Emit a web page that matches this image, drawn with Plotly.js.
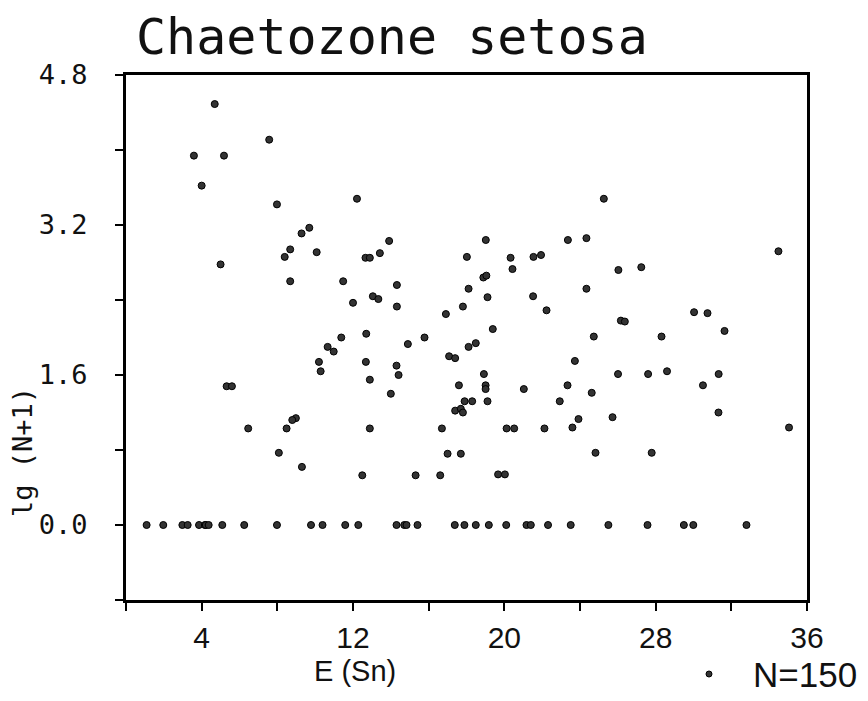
<!DOCTYPE html>
<html>
<head>
<meta charset="utf-8">
<script src="https://cdn.plot.ly/plotly-3.0.1.min.js"></script>
<style>html,body{margin:0;padding:0;background:#fff;}#chart{width:868px;height:701px;}</style>
</head>
<body>
<div id="chart"></div>
<script>
// Stations with N > 0: E (Sn) and lg(N+1)
const eSn = [4.69,7.57,3.59,5.18,4.00,7.98,12.21,9.28,9.69,13.91,8.68,8.39,10.08,12.66,12.89,13.42,5.00,8.68,11.48,14.32,
  13.05,13.34,12.00,14.32,25.26,19.02,23.36,24.34,18.02,20.33,21.54,21.94,20.43,26.03,27.24,18.89,19.05,18.11,19.11,21.52,
  24.34,17.81,22.23,16.91,26.16,26.37,19.39,34.49,30.03,30.74,31.64,28.31,27.60,28.60,31.33,30.50,31.32,35.05,27.79,12.70,
  11.38,14.90,10.66,10.98,10.20,12.68,14.30,10.29,14.41,12.89,14.00,5.32,5.60,8.98,8.79,6.46,8.49,12.89,8.08,9.30,
  12.49,15.31,15.78,18.11,18.49,17.08,17.40,18.92,17.60,19.01,19.01,21.03,17.90,18.30,19.11,17.40,17.70,17.81,16.70,20.12,
  20.52,17.00,17.70,16.61,19.67,20.03,24.73,23.73,26.01,23.34,24.62,22.93,23.92,25.72,23.60,24.82,22.12];
const lgN = [4.49,4.11,3.94,3.94,3.62,3.42,3.48,3.11,3.17,3.03,2.94,2.86,2.91,2.85,2.85,2.90,2.78,2.60,2.60,2.56,
  2.44,2.41,2.37,2.33,3.48,3.04,3.04,3.06,2.86,2.85,2.86,2.88,2.73,2.72,2.75,2.64,2.66,2.52,2.43,2.44,
  2.52,2.33,2.29,2.25,2.18,2.17,2.09,2.92,2.27,2.26,2.07,2.01,1.61,1.64,1.61,1.49,1.20,1.04,0.77,2.04,
  2.00,1.93,1.90,1.85,1.74,1.74,1.70,1.64,1.60,1.55,1.40,1.48,1.48,1.14,1.12,1.03,1.03,1.03,0.77,0.62,
  0.53,0.53,2.00,1.90,1.94,1.80,1.78,1.61,1.49,1.49,1.45,1.45,1.32,1.32,1.32,1.22,1.24,1.20,1.03,1.03,
  1.03,0.76,0.76,0.53,0.54,0.54,2.01,1.75,1.61,1.49,1.41,1.32,1.13,1.15,1.04,0.77,1.03];
// Stations with N = 0
const eSnZero = [1.09,1.97,2.98,3.26,3.86,4.17,4.22,4.37,5.09,6.25,7.98,9.78,10.39,11.59,12.28,14.30,14.71,14.83,15.41,17.38,
  17.89,18.49,19.18,20.10,21.17,21.40,22.31,23.51,25.50,27.57,29.49,29.99,32.80];
const lgNZero = eSnZero.map(() => 0);

const xTickVals = [0,4,8,12,16,20,24,28,32,36];
const xTickText = ['','4','','12','','20','','28','','36'];
const yTickVals = [-0.8,0,0.8,1.6,2.4,3.2,4.0,4.8];
const yTickText = ['','0.0','','1.6','','3.2','','4.8'];

const titleText = 'Chaetozone setosa';
const xLabel = 'E (Sn)';
const yLabel = 'lg (N+1)';
const legendName = 'N=150';

const marker = {symbol:'circle', size:7, color:'#333', line:{color:'#000', width:1}};

const traces = [
  {x: eSn.concat(eSnZero), y: lgN.concat(lgNZero), type:'scatter', mode:'markers',
   marker: marker, name: legendName, showlegend: false, hoverinfo:'x+y'}
];

const mono = 'DejaVu Sans Mono, monospace';
const sans = 'Liberation Sans, Arial, sans-serif';

// pixel helpers for paper coordinates (plot area 126..807 x 75..600)
const PL = 126, PW = 681, PT = 75, PH = 525;
const px = v => (v - PL) / PW;
const py = v => (PT + PH - v) / PH;

const layout = {
  width: 868, height: 701,
  paper_bgcolor: '#fff', plot_bgcolor: '#fff',
  margin: {l:126, r:61, t:75, b:101, autoexpand:false},
  showlegend: false,
  title: {text: titleText, font:{family: mono, size: 50, color:'#111'},
          x: 136/868, xref:'container', xanchor:'left', y: 1 - 19/701, yref:'container', yanchor:'top'},
  xaxis: {range:[0,36], tickvals: xTickVals, ticktext: xTickText, ticks:'outside', ticklen:8, tickwidth:2,
          tickcolor:'#000', showline:true, linewidth:3, linecolor:'#000', mirror:true, showgrid:false, zeroline:false,
          tickfont:{family: sans, size: 30, color:'#111'}, ticklabelstandoff: 1},
  yaxis: {range:[-0.8,4.8], tickvals: yTickVals, ticktext: yTickText, ticks:'outside', ticklen:8, tickwidth:2,
          tickcolor:'#000', showline:true, linewidth:3, linecolor:'#000', mirror:true, showgrid:false, zeroline:false,
          tickfont:{family: mono, size: 27, color:'#111'}, ticklabelstandoff: 22},
  shapes: [
    {type:'circle', xref:'paper', yref:'paper', x0: px(706), x1: px(712), y0: py(677), y1: py(671),
     fillcolor:'#333', line:{color:'#000', width:1}}
  ],
  annotations: [
    {text: xLabel, xref:'paper', yref:'paper', x: px(355), y: py(653), xanchor:'center', yanchor:'top',
     showarrow:false, font:{family: sans, size: 29, color:'#111'}},
    {text: yLabel, xref:'paper', yref:'paper', x: px(22), y: py(452), xanchor:'center', yanchor:'middle',
     textangle:-90, showarrow:false, font:{family: mono, size: 27, color:'#111'}},
    {text: legendName, xref:'paper', yref:'paper', x: px(751), y: py(674), xanchor:'left', yanchor:'middle',
     showarrow:false, font:{family: sans, size: 35, color:'#111'}}
  ]
};

Plotly.newPlot('chart', traces, layout, {staticPlot:true, displayModeBar:false});
</script>
</body>
</html>
